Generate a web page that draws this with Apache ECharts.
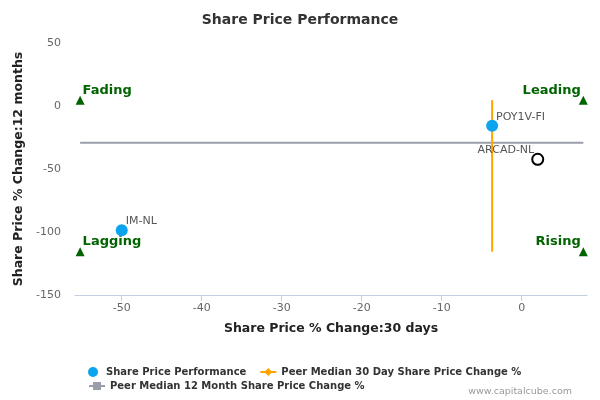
<!DOCTYPE html>
<html lang="en">
<head>
    <meta charset="UTF-8">
    <title>Share Price Performance</title>
    <style>
        html, body { margin: 0; padding: 0; background: #fff; }
    </style>
</head>
<body>
<div id="chart" style="width: 600px;height: 400px;"></div>
<script src="https://cdn.jsdelivr.net/npm/echarts@6/dist/echarts.min.js"></script>
<script>
    /* companies and their 30 day / 12 month price change */
    var companies = ['IM-NL', 'POY1V-FI', 'ARCAD-NL'];
    var change30d = [-50, -3.7, 2.0];
    var change12m = [-98.7, -15.6, -42.3];
    /* peer medians */
    var peerMedian30d = -3.7;
    var peerMedian12m = -29.1;
    /* quadrant markers */
    var quadrantNames = ['Fading', 'Leading', 'Lagging', 'Rising'];
    var quadrantX = [-55.2, 7.7, -55.2, 7.7];
    var quadrantY = [4.6, 4.6, -115.6, -115.6];
    var xTicks = [-50, -40, -30, -20, -10, 0];

    var font = 'DejaVu Sans, Verdana, sans-serif';
    var chart = echarts.init(document.getElementById('chart'));

    var pointData = companies.map(function (name, i) {
        var item = { name: name, value: [change30d[i], change12m[i]] };
        if (name === 'ARCAD-NL') {
            item.symbolSize = 11;
            item.itemStyle = { color: '#fff', borderColor: '#000', borderWidth: 2, opacity: 1 };
            item.label = { position: 'left', distance: -3, offset: [0, -9] };
        }
        return item;
    });

    var quadData = quadrantNames.map(function (name, i) {
        var right = quadrantX[i] < 0;
        return {
            name: name,
            value: [quadrantX[i], quadrantY[i]],
            label: { position: right ? 'right' : 'left', distance: -2, offset: [0, -10] }
        };
    });

    var legendText = { fontFamily: font, fontSize: 10, fontWeight: 'bold', color: '#333' };

    var option = {
        title: {
            text: 'Share Price Performance',
            left: 'center',
            top: 8,
            textStyle: { fontFamily: font, fontSize: 14, fontWeight: 'bold', color: '#333' }
        },
        legend: [{
            left: 83,
            top: 362,
            itemGap: 13,
            itemWidth: 16,
            itemHeight: 10,
            textStyle: legendText,
            data: [
                { name: 'Share Price Performance', icon: 'circle' },
                'Peer Median 30 Day Share Price Change %'
            ]
        }, {
            left: 83,
            top: 376,
            itemWidth: 16,
            itemHeight: 10,
            textStyle: legendText,
            data: ['Peer Median 12 Month Share Price Change %']
        }],
        grid: { left: 75, right: 13, top: 43, bottom: 105 },
        xAxis: {
            type: 'value',
            min: -55.84,
            max: 8.16,
            name: 'Share Price % Change:30 days',
            nameLocation: 'middle',
            nameGap: 27,
            nameTextStyle: { fontFamily: font, fontSize: 12.5, fontWeight: 'bold', color: '#222' },
            axisLine: { show: true, onZero: false, lineStyle: { color: '#c0d0e0', width: 1 } },
            axisTick: { show: true, length: 6, lineStyle: { color: '#c0d0e0' }, customValues: xTicks },
            axisLabel: { fontFamily: font, fontSize: 11, color: '#666', customValues: xTicks },
            splitLine: { show: false }
        },
        yAxis: {
            type: 'value',
            min: -150,
            max: 50,
            interval: 50,
            name: 'Share Price % Change:12 months',
            nameLocation: 'middle',
            nameGap: 42,
            nameTextStyle: { fontFamily: font, fontSize: 12.5, fontWeight: 'bold', color: '#222' },
            axisLine: { show: false },
            axisTick: { show: false },
            axisLabel: { fontFamily: font, fontSize: 11, color: '#666', margin: 14 },
            splitLine: { show: false }
        },
        series: [
            {
                name: 'Peer Median 12 Month Share Price Change %',
                type: 'line',
                symbol: 'rect',
                showSymbol: false,
                color: '#9a9ea8',
                lineStyle: { color: '#9a9ea8', width: 2 },
                silent: true,
                z: 1,
                data: [[quadrantX[0], peerMedian12m], [quadrantX[1], peerMedian12m]]
            },
            {
                name: 'Peer Median 30 Day Share Price Change %',
                type: 'line',
                symbol: 'diamond',
                showSymbol: false,
                color: '#ffa500',
                lineStyle: { color: '#ffa500', width: 2 },
                silent: true,
                z: 2,
                data: [[peerMedian30d, quadrantY[0]], [peerMedian30d, quadrantY[2]]]
            },
            {
                name: 'Share Price Performance',
                type: 'scatter',
                symbolSize: 12,
                color: '#0ba4ee',
                itemStyle: { opacity: 1 },
                z: 5,
                label: {
                    show: true,
                    position: 'right',
                    distance: -2,
                    offset: [0, -9],
                    formatter: '{b}',
                    fontFamily: font,
                    fontSize: 11,
                    color: '#555'
                },
                data: pointData
            },
            {
                name: 'quadrants',
                type: 'scatter',
                symbol: 'triangle',
                symbolSize: 9,
                color: '#006400',
                itemStyle: { opacity: 1 },
                silent: true,
                z: 4,
                label: {
                    show: true,
                    formatter: '{b}',
                    fontFamily: font,
                    fontSize: 13,
                    fontWeight: 'bold',
                    color: '#006400'
                },
                data: quadData
            }
        ],
        graphic: [{
            type: 'text',
            right: 28,
            bottom: 3,
            style: { text: 'www.capitalcube.com', fontFamily: font, fontSize: 9.5, fill: '#999' }
        }]
    };

    chart.setOption(option);
</script>
</body>
</html>
